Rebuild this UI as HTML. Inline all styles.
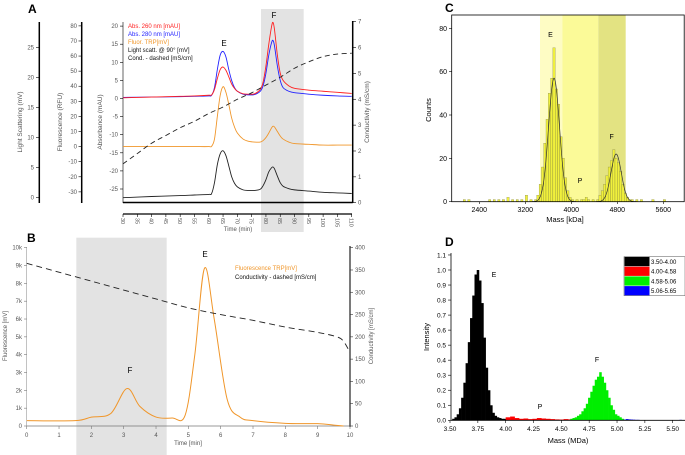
<!DOCTYPE html>
<html><head><meta charset="utf-8"><style>
body{margin:0;background:#fff}
svg{display:block;font-family:"Liberation Sans",sans-serif}
</style></head><body>
<svg id="fig" width="685" height="455" viewBox="0 0 685 455">
<g id="gA"></g>
<g id="gB"></g>
<g id="gC"></g>
<g id="gD"></g>
</svg>
<script>
// ---------- Panel A data ----------
const tA=[30,40,50,55,60,61,62,63,64,65,66,67,68,69,70,72,74,76,78,79,80,81,82,82.5,83,84,85,86,88,90,95,100,105,110];
const abs260=[0.2,0.4,0.6,0.7,0.9,1.0,2.5,5.5,8,8.7,7.8,6,4,2.8,2,1.3,1.2,1.3,2.5,4.5,9,15,20,21,19,12,7,5,3.5,2.8,2.3,2,1.7,1.4];
const abs280=[0.3,0.4,0.5,0.6,0.7,0.9,3,8,12,13,11.5,8,5,3,2,1.2,1,1.1,2,3.5,7,12,15.5,16,14.5,9,5,3,2,1.6,1.2,0.9,0.7,0.6];
const fluorA=[0,0,0,0,0,0.2,5,20,34,39.7,36,28,19,13,9,5,3.5,3,3,4,6,9,12.5,13.5,13,10,7,5,3,2,1.5,1,1,1];
const lightA=[0,0.2,0.35,0.45,0.55,0.7,2.5,5.5,7.3,7.8,7,5.3,3.5,2.4,1.8,1.3,1.2,1.2,1.4,2,3,4.3,5,5.1,4.8,3.6,2.5,1.9,1.5,1.3,1.1,0.9,0.8,0.7];
const tCond=[30,35,40,45,50,55,60,65,70,75,80,85,90,95,100,105,110];
const condA=[1.5,1.9,2.3,2.6,2.9,3.15,3.45,3.7,4.0,4.25,4.55,4.85,5.2,5.45,5.65,5.75,5.78];
const timeTicksA=[30,35,40,45,50,55,60,65,70,75,80,85,90,95,100,105,110];
const absTicks=[20,15,10,5,0,-5,-10,-15,-20,-25];
const fluTicks=[80,70,60,50,40,30,20,10,0,-10,-20,-30];
const lsTicks=[25,20,15,10,5,0];
const condTicks=[0,1,2,3,4,5,6,7];
// ---------- Panel B data ----------
const tB=[0,1.5,2,2.6,3.1,3.5,4,4.5,4.9,5.2,5.5,5.8,6.2,6.6,7,8,9,9.5,9.8];
const fluorB=[300,300,500,700,2100,1100,500,450,600,4000,8850,6000,1500,500,300,150,130,50,0];
const tCondB=[0,2,4,5,6,7,8,9,9.6,9.8,10];
const condB=[365,325,285,265,250,237,222,210,200,190,165];
const bXTicks=[0,1,2,3,4,5,6,7,8,9,10];
const bYTicks=[0,1,2,3,4,5,6,7,8,9,10];
const bRTicks=[0,50,100,150,200,250,300,350,400];
// ---------- Panel C data ----------
const cBins=[2120,2200,2560,2640,2720,2800,2880,2960,3040,3120,3200,3280,3360,3400,3440,3480,3520,3560,3600,3640,3680,3720,3760,3800,3840,3880,3920,3960,4000,4080,4160,4200,4240,4280,4360,4440,4480,4520,4560,4600,4640,4680,4720,4760,4800,4840,4880,4920,4960,5000,5040,5120,5200,5400,5600];
const cCounts=[1,1,1,1,1,1,2,1,1,1,3,1,1,3,8,16,27,38,50,57,71,52,45,30,20,11,5,2,1,1,1,1,2,1,1,1,3,5,8,12,16,19,24,20,18,14,8,4,2,1,1,1,1,1,1];
const cFitCenters=[3680,4760];
const cFitPeaks=[57,22];
const cFitSigmas=[95,90];
const cXTicks=[2400,3200,4000,4800,5600];
const cYTicks=[0,20,40,60,80];
// ---------- Panel D data ----------
const dBins=[3.50,3.52,3.54,3.56,3.58,3.60,3.62,3.64,3.66,3.68,3.70,3.72,3.74,3.76,3.78,3.80,3.82,3.84,3.86,3.88,3.90,3.92,3.94,3.96,3.98,
4.00,4.04,4.08,4.12,4.16,4.20,4.24,4.28,4.32,4.36,4.40,4.44,4.48,4.52,4.56,
4.58,4.60,4.62,4.64,4.66,4.68,4.70,4.72,4.74,4.76,4.78,4.80,4.82,4.84,4.86,4.88,4.90,4.92,4.94,4.96,4.98,5.00,5.02,5.04,
5.06,5.08,5.10,5.12,5.14,5.16,5.18,5.20,5.22,5.56];
const dInt=[0,0.01,0.02,0.04,0.08,0.15,0.25,0.38,0.52,0.68,0.83,0.97,1.0,0.93,0.78,0.55,0.35,0.2,0.1,0.05,0.03,0.02,0.015,0.01,0.01,
0.02,0.025,0.015,0.01,0.012,0.008,0.01,0.015,0.012,0.01,0.008,0.006,0.005,0.008,0.006,
0.01,0.015,0.02,0.03,0.04,0.06,0.08,0.11,0.15,0.19,0.23,0.27,0.29,0.32,0.29,0.25,0.2,0.15,0.1,0.07,0.04,0.03,0.02,0.01,
0.005,0.008,0.006,0.005,0.004,0.003,0.003,0.002,0.002,0.003];
const dRanges=[3.50,4.00,4.58,5.06,5.65];
const dColors=["#000000","#ff0000","#00ee00","#0000ff"];
const dLegend=["3.50-4.00","4.00-4.58","4.58-5.06","5.06-5.65"];
const dXTicks=[3.50,3.75,4.00,4.25,4.50,4.75,5.00,5.25,5.50];
const dYTicks=[0,0.1,0.2,0.3,0.4,0.5,0.6,0.7,0.8,0.9,1.0,1.1];

const NS="http://www.w3.org/2000/svg";
function mk(parent,tag,attrs,text){const e=document.createElementNS(NS,tag);for(const k in attrs)e.setAttribute(k,attrs[k]);if(text!==undefined)e.textContent=text;parent.appendChild(e);return e;}
function smooth(pts){let d="M"+pts[0][0].toFixed(2)+","+pts[0][1].toFixed(2);for(let i=0;i<pts.length-1;i++){const p0=pts[Math.max(0,i-1)],p1=pts[i],p2=pts[i+1],p3=pts[Math.min(pts.length-1,i+2)];const c1=[p1[0]+(p2[0]-p0[0])/6,p1[1]+(p2[1]-p0[1])/6],c2=[p2[0]-(p3[0]-p1[0])/6,p2[1]-(p3[1]-p1[1])/6];d+="C"+c1[0].toFixed(2)+","+c1[1].toFixed(2)+" "+c2[0].toFixed(2)+","+c2[1].toFixed(2)+" "+p2[0].toFixed(2)+","+p2[1].toFixed(2);}return d;}
const G="#555";

// ================= Panel A =================
(function(){
const g=document.getElementById('gA');
const xA=t=>123+(t-30)*(351.7-123)/80;
const yAbs=v=>98.5-v*18.1/5;
const yFl=v=>146.6-v*15.09/10;
const yLs=v=>197.7-v*(197.7-47.3)/25;
const yCo=v=>202.7-v*(202.7-21.7)/7;
let e=mk(g,'rect',{x:261,y:9,width:42.7,height:223,fill:'#e3e3e3'});

e=mk(g,'text',{x:28,y:13,'font-size':12,'font-weight':'bold'},'A');

mk(g,'line',{x1:123,y1:202.5,x2:352.7,y2:202.5,stroke:'#000','stroke-width':1.5});
mk(g,'line',{x1:352.7,y1:21,x2:352.7,y2:203,stroke:'#000','stroke-width':1.5});
mk(g,'line',{x1:123,y1:22,x2:123,y2:203,stroke:'#000','stroke-width':0.6});
absTicks.forEach(v=>{mk(g,'line',{x1:120,y1:yAbs(v),x2:123,y2:yAbs(v),stroke:'#000','stroke-width':0.6});
e=mk(g,'text',{x:118,y:yAbs(v)+2,'font-size':6,'text-anchor':'end',fill:G},String(v));});
mk(g,'line',{x1:81.7,y1:22,x2:81.7,y2:203,stroke:'#000','stroke-width':1.5});
fluTicks.forEach(v=>{mk(g,'line',{x1:78.5,y1:yFl(v),x2:81.7,y2:yFl(v),stroke:'#000','stroke-width':0.6});
e=mk(g,'text',{x:77,y:yFl(v)+2,'font-size':6,'text-anchor':'end',fill:G},String(v));});
mk(g,'line',{x1:39.3,y1:22,x2:39.3,y2:203,stroke:'#000','stroke-width':1.5});
lsTicks.forEach(v=>{mk(g,'line',{x1:36,y1:yLs(v),x2:39.3,y2:yLs(v),stroke:'#000','stroke-width':0.6});
e=mk(g,'text',{x:34,y:yLs(v)+2,'font-size':6,'text-anchor':'end',fill:G},String(v));});
condTicks.forEach(v=>{mk(g,'line',{x1:352.7,y1:yCo(v),x2:356,y2:yCo(v),stroke:'#000','stroke-width':0.6});
e=mk(g,'text',{x:358,y:yCo(v)+2,'font-size':6,fill:G},String(v));});
[[22,122,'Light Scattering (mV)','ls-axis-title'],[62,122,'Fluorescence (RFU)','fluor-axis-title'],[102,122,'Absorbance (mAU)','abs-axis-title'],[369,112,'Conductivity (mS/cm)','cond-axis-title']].forEach(a=>{
e=mk(g,'text',{x:a[0],y:a[1],'font-size':6.5,fill:G,'text-anchor':'middle',transform:`rotate(-90 ${a[0]} ${a[1]})`},a[2]);});
mk(g,'line',{x1:123,y1:214,x2:352,y2:214,stroke:'#000','stroke-width':1.2});
timeTicksA.forEach(v=>{const x=xA(v);mk(g,'line',{x1:x,y1:214,x2:x,y2:217,stroke:'#000','stroke-width':0.6});
e=mk(g,'text',{x:x-2,y:218,'font-size':5.5,fill:G,transform:`rotate(90 ${x-2} 218)`},String(v));});
e=mk(g,'text',{x:238,y:231,'font-size':6,fill:G,'text-anchor':'middle'},'Time (min)');
const series=[[lightA,yLs,'#222','light-scatter-line'],[fluorA,yFl,'#f0962a','fluorescence-line'],[abs280,yAbs,'#2222ff','abs280-line'],[abs260,yAbs,'#ff2020','abs260-line']];
series.forEach(s=>{e=mk(g,'path',{d:smooth(tA.map((t,i)=>[xA(t),s[1](s[0][i])])),fill:'none',stroke:s[2],'stroke-width':0.9});});
e=mk(g,'path',{d:smooth(tCond.map((t,i)=>[xA(t),yCo(condA[i])])),fill:'none',stroke:'#222','stroke-width':0.9,'stroke-dasharray':'5,3.5'});
[['Abs. 260 nm [mAU]','#ff2020'],['Abs. 280 nm [mAU]','#2222ff'],['Fluor. TRP[mV]','#f0962a'],['Light scatt. @ 90° [mV]','#111'],['Cond. - dashed [mS/cm]','#111']].forEach((l,i)=>{
e=mk(g,'text',{x:128,y:28+i*8,'font-size':6,fill:l[1]},l[0]);});
e=mk(g,'text',{x:224,y:46,'font-size':8,'text-anchor':'middle'},'E');
e=mk(g,'text',{x:274,y:18,'font-size':8,'text-anchor':'middle'},'F');
})();

// ================= Panel B =================
(function(){
const g=document.getElementById('gB');
const xB=t=>26.7+t*(350-26.7)/10;
const yB=v=>426-v*(426-247.7)/10000;
const yBr=v=>426-v*(426-247.7)/400;
let e=mk(g,'rect',{x:76.3,y:237.7,width:90.4,height:218,fill:'#e3e3e3'});
e=mk(g,'text',{x:27,y:242,'font-size':12,'font-weight':'bold'},'B');
mk(g,'line',{x1:26.7,y1:247,x2:26.7,y2:426,stroke:'#999','stroke-width':0.6});
mk(g,'line',{x1:26.7,y1:426,x2:350,y2:426,stroke:'#777','stroke-width':0.8});
mk(g,'line',{x1:350,y1:246,x2:350,y2:427,stroke:'#333','stroke-width':1.3});
bXTicks.forEach(v=>{mk(g,'line',{x1:xB(v),y1:426,x2:xB(v),y2:429,stroke:'#777','stroke-width':0.6});
e=mk(g,'text',{x:xB(v),y:437,'font-size':6,'text-anchor':'middle',fill:G},String(v));});
bYTicks.forEach(v=>{const y=yB(v*1000);mk(g,'line',{x1:24,y1:y,x2:26.7,y2:y,stroke:'#777','stroke-width':0.6});
e=mk(g,'text',{x:22,y:y+2,'font-size':6,'text-anchor':'end',fill:G},v===0?'0':v+'k');});
bRTicks.forEach(v=>{const y=yBr(v);mk(g,'line',{x1:350,y1:y,x2:353,y2:y,stroke:'#333','stroke-width':0.6});
e=mk(g,'text',{x:355,y:y+2,'font-size':6,fill:G},String(v));});
e=mk(g,'text',{x:7,y:336,'font-size':6,'text-anchor':'middle',fill:G,transform:'rotate(-90 7 336)'},'Fluorescence [mV]');
e=mk(g,'text',{x:373,y:336,'font-size':6,'text-anchor':'middle',fill:G,transform:'rotate(-90 373 336)'},'Conductivity [mS/cm]');
e=mk(g,'text',{x:188,y:445,'font-size':6,'text-anchor':'middle',fill:G},'Time [min]');
e=mk(g,'path',{d:smooth(tB.map((t,i)=>[xB(t),yB(fluorB[i])])),fill:'none',stroke:'#f0962a','stroke-width':1});
e=mk(g,'path',{d:smooth(tCondB.map((t,i)=>[xB(t),yBr(condB[i])])),fill:'none',stroke:'#222','stroke-width':0.9,'stroke-dasharray':'6,4'});
e=mk(g,'text',{x:235,y:270,'font-size':6,fill:'#f0962a'},'Fluorescence TRP[mV]');
e=mk(g,'text',{x:235,y:279,'font-size':6,fill:'#111'},'Conductivity - dashed [mS/cm]');
e=mk(g,'text',{x:205,y:257,'font-size':8,'text-anchor':'middle'},'E');
e=mk(g,'text',{x:130,y:373,'font-size':8,'text-anchor':'middle'},'F');
})();

// ================= Panel C =================
(function(){
const g=document.getElementById('gC');
const xC=m=>479.3+(m-2400)*(663.3-479.3)/3200;
const yC=v=>201.7-v*(201.7-28.3)/80;
let e;
[[540,562.3,'#fefcc4'],[562.3,598.3,'#fbfa98'],[598.3,625.7,'#e3e382']].forEach((b,i)=>{e=mk(g,'rect',{x:b[0],y:15,width:b[1]-b[0],height:186.7,fill:b[2]});});
e=mk(g,'text',{x:445,y:12,'font-size':12,'font-weight':'bold'},'C');
cBins.forEach((b,i)=>{const x0=xC(b),x1=xC(b+40);e=mk(g,'rect',{x:x0,y:yC(cCounts[i]),width:x1-x0,height:yC(0)-yC(cCounts[i]),fill:'#f0f03c',stroke:'#6a6a3a','stroke-width':0.25});});
cFitCenters.forEach((c,k)=>{const pts=[];for(let m=c-4*cFitSigmas[k];m<=c+4*cFitSigmas[k];m+=10){pts.push([xC(m+20),yC(cFitPeaks[k]*Math.exp(-0.5*((m-c)/cFitSigmas[k])**2))]);}
e=mk(g,'path',{d:'M'+pts.map(p=>p[0].toFixed(2)+','+p[1].toFixed(2)).join('L'),fill:'none',stroke:'#333','stroke-width':0.7});});
mk(g,'rect',{x:451.7,y:15,width:232.5,height:186.7,fill:'none',stroke:'#000','stroke-width':0.8});
cXTicks.forEach(v=>{mk(g,'line',{x1:xC(v),y1:201.7,x2:xC(v),y2:204,stroke:'#000','stroke-width':0.6});
e=mk(g,'text',{x:xC(v),y:212,'font-size':7,'text-anchor':'middle'},String(v));});
cYTicks.forEach(v=>{mk(g,'line',{x1:449,y1:yC(v),x2:451.7,y2:yC(v),stroke:'#000','stroke-width':0.6});
e=mk(g,'text',{x:447,y:yC(v)+2.5,'font-size':7,'text-anchor':'end'},String(v));});
e=mk(g,'text',{x:431,y:110,'font-size':7.5,'text-anchor':'middle',transform:'rotate(-90 431 110)'},'Counts');
e=mk(g,'text',{x:565,y:222,'font-size':7.5,'text-anchor':'middle'},'Mass [kDa]');
[['E',550.5,37],['F',611.7,139],['P',580,183]].forEach(l=>{e=mk(g,'text',{x:l[1],y:l[2],'font-size':7,'text-anchor':'middle'},l[0]);});
})();

// ================= Panel D =================
(function(){
const g=document.getElementById('gD');
const xD=m=>450+(m-3.5)*(672.7-450)/2.0;
const yD=v=>420.3-v*150.3;
let e=mk(g,'text',{x:445,y:246,'font-size':12,'font-weight':'bold'},'D');
dBins.forEach((b,i)=>{let k=0;while(k<3&&b>=dRanges[k+1]-1e-9)k++;const w=(i+1<dBins.length&&dBins[i+1]-b<0.05)?dBins[i+1]-b:0.02;
e=mk(g,'rect',{x:xD(b),y:yD(dInt[i]),width:xD(b+w)-xD(b)+0.3,height:yD(0)-yD(dInt[i]),fill:dColors[k]});});
mk(g,'line',{x1:451,y1:253,x2:451,y2:420.3,stroke:'#000','stroke-width':0.8});
mk(g,'line',{x1:451,y1:420.3,x2:685,y2:420.3,stroke:'#000','stroke-width':0.8});
dXTicks.forEach(v=>{mk(g,'line',{x1:xD(v),y1:420.3,x2:xD(v),y2:423,stroke:'#000','stroke-width':0.6});
e=mk(g,'text',{x:xD(v),y:431,'font-size':6.5,'text-anchor':'middle'},v.toFixed(2));});
dYTicks.forEach(v=>{mk(g,'line',{x1:448,y1:yD(v),x2:451,y2:yD(v),stroke:'#000','stroke-width':0.6});
e=mk(g,'text',{x:446,y:yD(v)+2.3,'font-size':6.5,'text-anchor':'end'},v.toFixed(1));});
e=mk(g,'text',{x:429,y:337,'font-size':7.5,'text-anchor':'middle',transform:'rotate(-90 429 337)'},'Intensity');
e=mk(g,'text',{x:568,y:443,'font-size':7.5,'text-anchor':'middle'},'Mass (MDa)');
mk(g,'rect',{x:624,y:256.7,width:61,height:39,fill:'#fff',stroke:'#555','stroke-width':0.5});
dLegend.forEach((l,i)=>{mk(g,'rect',{x:624.5,y:257+i*9.7,width:25,height:9.2,fill:dColors[i]});
e=mk(g,'text',{x:651,y:264+i*9.7,'font-size':6},l);});
[['E',494,277],['F',597,362],['P',540,409]].forEach(l=>{e=mk(g,'text',{x:l[1],y:l[2],'font-size':7,'text-anchor':'middle'},l[0]);});
})();
</script>
</body></html>
